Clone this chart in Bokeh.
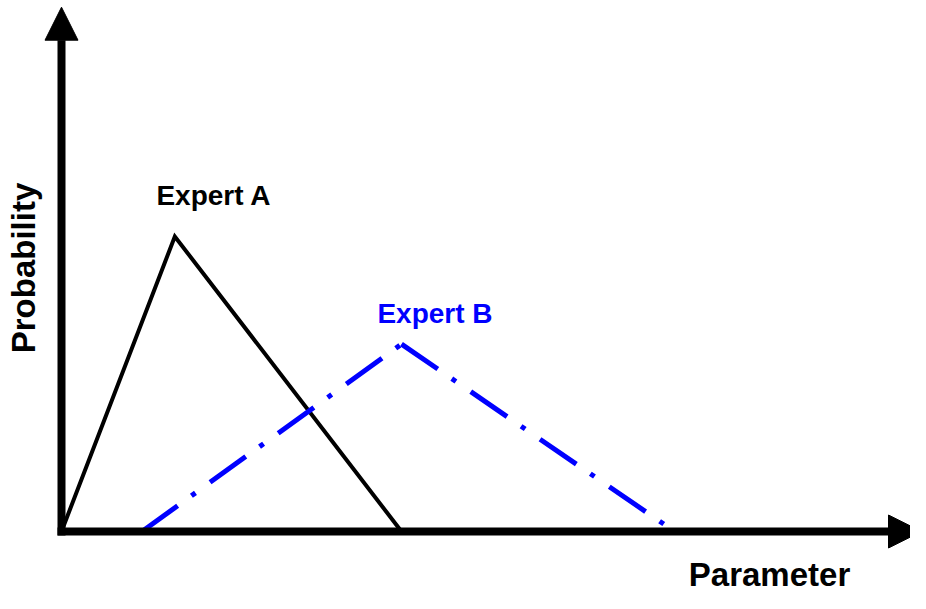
import math
from bokeh.plotting import figure
from bokeh.models import Range1d, Arrow, NormalHead, Label
from bokeh.embed import file_html
from bokeh.resources import INLINE

# Data (parameter units, probability units)
expert_a_x = [0.0, 1.0, 3.0]
expert_a_y = [0.0, 1.0, 0.0]
expert_b_x = [0.71, 3.0, 5.41]
expert_b_y = [0.0, 0.635, 0.0]

W, H = 910, 593
px_x = 113.33   # pixels per parameter unit
px_y = 295.0    # pixels per probability unit
ox, oy = 61, 531  # origin on canvas (from top-left)

x0 = -ox / px_x
x1 = (W - ox) / px_x
y0 = -(H - oy) / px_y
y1 = oy / px_y

p = figure(width=W, height=H, output_backend="svg", toolbar_location=None,
           x_range=Range1d(x0, x1), y_range=Range1d(y0, y1),
           min_border=0, min_border_left=0, min_border_right=0,
           min_border_top=0, min_border_bottom=0)
p.axis.visible = False
p.grid.visible = False
p.outline_line_color = None
p.background_fill_color = "white"
p.border_fill_color = "white"

# Expert A (solid black)
p.line(expert_a_x, expert_a_y, line_color="black", line_width=4,
       line_join="miter")

# Expert B (blue dash-dot), each side starting with a dash
p.multi_line([expert_b_x[0:2], expert_b_x[1:3]],
             [expert_b_y[0:2], expert_b_y[1:3]],
             line_color="#0000FF", line_width=5, line_dash="44 17 5 18")

# Axes with arrow heads
p.add_layout(Arrow(end=NormalHead(size=33, fill_color="black", line_color="black"),
                   x_start=-4 / px_x, y_start=0.0, x_end=(921 - ox) / px_x, y_end=0.0,
                   line_width=8, line_color="black"))
p.add_layout(Arrow(end=NormalHead(size=33, fill_color="black", line_color="black"),
                   x_start=0.0, y_start=-4 / px_y, x_end=0.0, y_end=(oy - 6.7) / px_y,
                   line_width=8, line_color="black"))

font = "Liberation Sans"
p.add_layout(Label(x=213.5, y=H - 195, x_units="screen", y_units="screen",
                   text="Expert A", text_font=font, text_font_style="bold",
                   text_font_size="28px", text_color="black",
                   text_align="center", text_baseline="alphabetic"))
p.add_layout(Label(x=434.5, y=H - 312.7, x_units="screen", y_units="screen",
                   text="Expert B", text_font=font, text_font_style="bold",
                   text_font_size="28px", text_color="#0000FF",
                   text_align="center", text_baseline="alphabetic"))
p.add_layout(Label(x=769, y=H - 574, x_units="screen", y_units="screen",
                   text="Parameter", text_font=font, text_font_style="bold",
                   text_font_size="33px", text_color="black",
                   text_align="center", text_baseline="alphabetic"))
p.add_layout(Label(x=23, y=H - 267.5, x_units="screen", y_units="screen",
                   text="Probability", text_font=font, text_font_style="bold",
                   text_font_size="33px", text_color="black", angle=math.pi / 2,
                   text_align="center", text_baseline="alphabetic"))

open("out.html", "w").write(file_html(p, INLINE))
